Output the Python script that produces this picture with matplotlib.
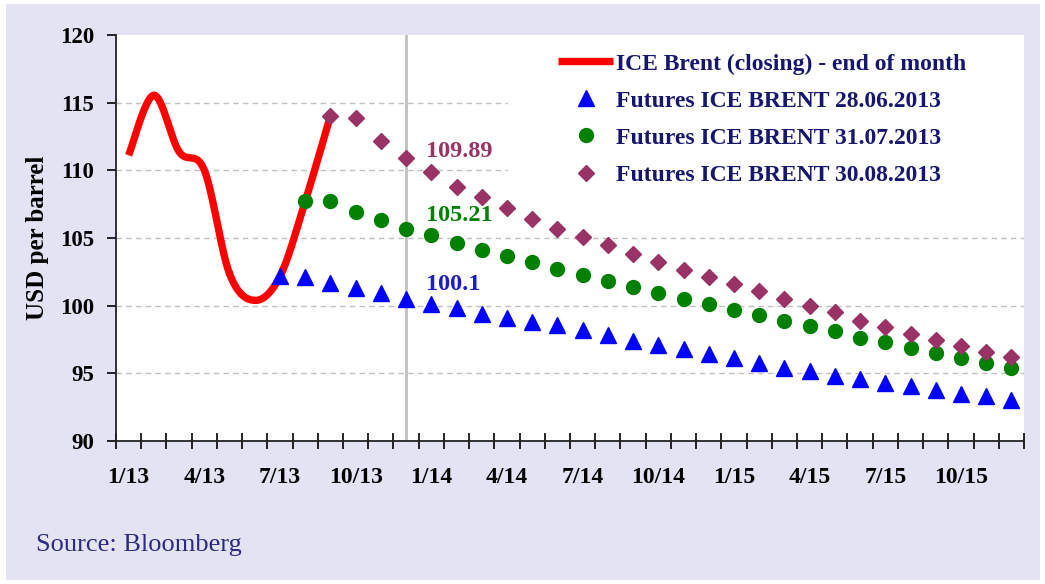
"""Brent spot vs. futures curves, Excel-style chart."""

import numpy as np
import matplotlib
matplotlib.use("Agg")
import matplotlib.pyplot as plt
from matplotlib.lines import Line2D
from matplotlib.patches import Rectangle

months = [f"{m}/{y}" for y in (13, 14, 15) for m in range(1, 13)]
tick_labels = ["1/13", "4/13", "7/13", "10/13", "1/14", "4/14",
               "7/14", "10/14", "1/15", "4/15", "7/15", "10/15"]

brent_close = [111.11, 115.55, 111.38, 110.02, 102.37, 100.39, 102.16, 107.70, 114.01]

fut_0628_start = 6
fut_0628 = [102.16, 102.1, 101.7, 101.3, 100.9, 100.5, 100.1, 99.8, 99.4, 99.1,
            98.8, 98.6, 98.2, 97.8, 97.4, 97.1, 96.8, 96.4, 96.1, 95.8,
            95.4, 95.2, 94.8, 94.6, 94.3, 94.1, 93.8, 93.5, 93.3, 93.0]

fut_0731_start = 7
fut_0731 = [107.70, 107.7, 106.9, 106.3, 105.7, 105.21, 104.6, 104.1, 103.7, 103.2,
            102.7, 102.3, 101.8, 101.4, 100.9, 100.5, 100.1, 99.7, 99.3, 98.9,
            98.5, 98.1, 97.6, 97.3, 96.9, 96.5, 96.1, 95.8, 95.4]

fut_0830_start = 8
fut_0830 = [114.01, 113.9, 112.2, 110.9, 109.89, 108.8, 108.0, 107.2, 106.4, 105.7,
            105.1, 104.5, 103.8, 103.2, 102.6, 102.1, 101.6, 101.1, 100.5, 100.0,
            99.5, 98.9, 98.4, 97.9, 97.5, 97.0, 96.6, 96.2]

marker_month = "12/13"   # vertical separator
label_month = "1/14"     # where the values are annotated

RED = "#ff0000"
BLUE = "#0000ff"
GREEN = "#008000"
PLUM = "#993366"
NAVY = "#16166e"
SERIF = "Liberation Serif"


def smooth(xs, ys, n=30):
    # Catmull-Rom, roughly what Excel's "smoothed line" does
    xs = np.asarray(xs, float)
    ys = np.asarray(ys, float)
    px = np.concatenate([[xs[0]], xs, [xs[-1]]])
    py = np.concatenate([[ys[0]], ys, [ys[-1]]])
    out_x, out_y = [], []
    t = np.linspace(0, 1, n)
    for i in range(1, len(px) - 2):
        for p, out in ((px, out_x), (py, out_y)):
            p0, p1, p2, p3 = p[i - 1], p[i], p[i + 1], p[i + 2]
            out.extend(0.5 * (2 * p1 + (-p0 + p2) * t
                              + (2 * p0 - 5 * p1 + 4 * p2 - p3) * t ** 2
                              + (-p0 + 3 * p1 - 3 * p2 + p3) * t ** 3))
    return out_x, out_y


fig = plt.figure(figsize=(10.45, 5.84), dpi=100, facecolor="white")
fig.patches.append(Rectangle((6 / 1045, 4 / 584), 1034 / 1045, 576 / 584,
                             transform=fig.transFigure, facecolor="#e3e3f4",
                             edgecolor="none", zorder=-10))

ax = fig.add_axes([116 / 1045, 1 - 441 / 584, 908 / 1045, 406 / 584])
ax.set_facecolor("white")

x_all = np.arange(len(months))
ax.set_xlim(-0.5, len(months) - 0.5)
ax.set_ylim(90, 120)

# gridlines + white block behind the legend (Excel legend has an opaque fill)
for v in (95, 100, 105, 110, 115):
    ax.axhline(v, color="#c0c0c0", lw=1.0, ls=(0, (4, 3)), zorder=0)
ax.add_patch(Rectangle((0.432, 0.62), 0.57, 0.38, transform=ax.transAxes,
                       facecolor="white", edgecolor="none", zorder=0.5))

sep = months.index(marker_month)
ax.axvline(sep, color="#c0c0c0", lw=2.0, zorder=1)

sx, sy = smooth(x_all[:len(brent_close)], brent_close)
ax.plot(sx, sy, color=RED, lw=5.3, solid_capstyle="butt", zorder=3)

ax.plot(x_all[fut_0628_start:fut_0628_start + len(fut_0628)], fut_0628,
        ls="none", marker="^", ms=11, color=BLUE, zorder=4)
ax.plot(x_all[fut_0731_start:fut_0731_start + len(fut_0731)], fut_0731,
        ls="none", marker="o", ms=10, color=GREEN, zorder=4)
ax.plot(x_all[fut_0830_start:fut_0830_start + len(fut_0830)], fut_0830,
        ls="none", marker="D", ms=8, color=PLUM, zorder=4)

li = months.index(label_month)
for vals, start, col, txt in ((fut_0830, fut_0830_start, PLUM, "109.89"),
                              (fut_0731, fut_0731_start, GREEN, "105.21"),
                              (fut_0628, fut_0628_start, "#1c1cc8", "100.1")):
    ax.annotate(txt, (li, vals[li - start]), xytext=(-5, 20),
                textcoords="offset pixels", ha="left", va="center",
                color=col, fontsize=17.5, fontweight="bold", family=SERIF)

# axes styling
for s in ("top", "right"):
    ax.spines[s].set_visible(False)
for s in ("left", "bottom"):
    ax.spines[s].set_linewidth(1.3)
    ax.spines[s].set_color("#222222")

ax.set_yticks(range(90, 121, 5))
ax.tick_params(axis="y", direction="out", length=6.5, width=1.2,
               pad=9, labelsize=16.5)
ax.set_xticks(np.arange(-0.5, len(months), 1.0))
ax.set_xticklabels([])
ax.tick_params(axis="x", which="major", direction="inout", length=11, width=1.2)
ax.set_xticks([months.index(t) for t in tick_labels], minor=True)
ax.set_xticklabels(tick_labels, minor=True)
ax.tick_params(axis="x", which="minor", length=0, pad=19, labelsize=17)
for lab in ax.get_yticklabels() + ax.get_xticklabels(minor=True):
    lab.set_family(SERIF)
    lab.set_fontweight("bold")

ax.set_ylabel("USD per barrel", family=SERIF, fontweight="bold", fontsize=18)
ax.yaxis.set_label_coords(-0.074, 0.5)

handles = [
    Line2D([], [], color=RED, lw=5.3, solid_capstyle="butt"),
    Line2D([], [], ls="none", marker="^", ms=11, color=BLUE),
    Line2D([], [], ls="none", marker="o", ms=10, color=GREEN),
    Line2D([], [], ls="none", marker="D", ms=8, color=PLUM),
]
labels = ["ICE Brent (closing) - end of month",
          "Futures ICE BRENT 28.06.2013",
          "Futures ICE BRENT 31.07.2013",
          "Futures ICE BRENT 30.08.2013"]
leg = ax.legend(handles, labels, loc="upper left", frameon=False,
                bbox_to_anchor=((558 - 116) / 908, 1 - 18 / 406),
                borderaxespad=0, borderpad=0, handlelength=2.33,
                handletextpad=0.13, labelspacing=0.66,
                prop={"family": SERIF, "weight": "bold", "size": 17})
for t in leg.get_texts():
    t.set_color(NAVY)

fig.text(36 / 1045, 1 - 545 / 584, "Source: Bloomberg", family=SERIF,
         fontsize=19, color="#2a2a80", ha="left", va="center")

fig.savefig("out.png", dpi=100, facecolor="white")
